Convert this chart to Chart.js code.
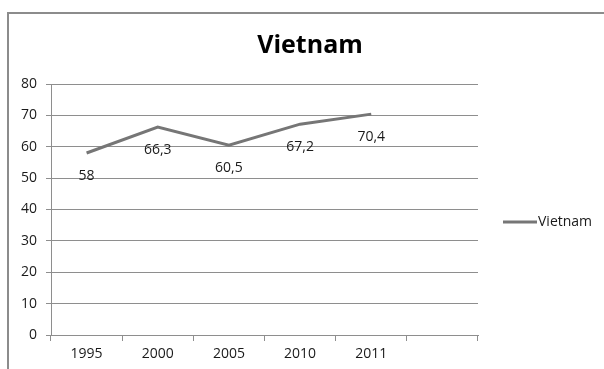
<!DOCTYPE html>
<html>
<head>
<meta charset="utf-8">
<title>Vietnam</title>
<script src="https://cdn.jsdelivr.net/npm/chart.js@4/dist/chart.umd.min.js"></script>
<style>
  html, body { margin: 0; padding: 0; background: #fff; overflow: hidden; }
  #wrap { position: relative; width: 604px; height: 369px; }
  #frame {
    position: absolute; left: 7px; top: 12px; width: 640px; height: 400px;
    border: 2px solid #8c8c8c; box-sizing: border-box;
  }
  canvas { position: absolute; left: 0; top: 0; }
</style>
</head>
<body>
<div id="wrap">
  <div id="frame"></div>
  <canvas id="chart" width="604" height="369"></canvas>
</div>
<script>
// data
const years = ["1995", "2000", "2005", "2010", "2011", ""];
const values = [58, 66.3, 60.5, 67.2, 70.4];
const seriesName = "Vietnam";
const yTicks = [0, 10, 20, 30, 40, 50, 60, 70, 80];

const FONT = "'Open Sans', sans-serif";
const lineColor = "#767676";
const gridColor = "#8e8e8e";

// chart title, centred over the whole frame (not just the plot)
const frameTitle = {
  id: "frameTitle",
  afterDraw(chart) {
    const ctx = chart.ctx;
    ctx.save();
    ctx.font = "bold 25px " + FONT;
    ctx.fillStyle = "#000";
    ctx.textAlign = "center";
    ctx.textBaseline = "middle";
    ctx.fillText(seriesName, 310, 46);
    ctx.restore();
  }
};

// value labels under each point, with a decimal comma
const pointLabels = {
  id: "pointLabels",
  afterDatasetsDraw(chart) {
    const ctx = chart.ctx;
    const meta = chart.getDatasetMeta(0);
    ctx.save();
    ctx.font = "14px " + FONT;
    ctx.fillStyle = "#1a1a1a";
    ctx.textAlign = "center";
    ctx.textBaseline = "middle";
    meta.data.forEach((pt, i) => {
      const txt = String(values[i]).replace(".", ",");
      ctx.fillText(txt, pt.x, pt.y + 23);
    });
    ctx.restore();
  }
};

// legend on the right: short line + series name
const sideLegend = {
  id: "sideLegend",
  afterDraw(chart) {
    const ctx = chart.ctx;
    const ds = chart.data.datasets[0];
    const y = 222;
    ctx.save();
    ctx.strokeStyle = ds.borderColor;
    ctx.lineWidth = 3;
    ctx.beginPath();
    ctx.moveTo(503, y);
    ctx.lineTo(537, y);
    ctx.stroke();
    ctx.font = "14px " + FONT;
    ctx.fillStyle = "#1a1a1a";
    ctx.textBaseline = "middle";
    ctx.fillText(ds.label, 538, y);
    ctx.restore();
  }
};

const ctx = document.getElementById("chart");
const chart = new Chart(ctx, {
  type: "line",
  data: {
    labels: years,
    datasets: [{
      label: seriesName,
      data: values,
      borderColor: lineColor,
      borderWidth: 3,
      pointRadius: 0,
      tension: 0,
      fill: false
    }]
  },
  options: {
    responsive: false,
    animation: false,
    layout: { padding: { left: 0, right: 126, top: 84, bottom: 0 } },
    plugins: {
      legend: { display: false },
      tooltip: { enabled: false },
      title: { display: false }
    },
    scales: {
      x: {
        offset: true,
        grid: {
          offset: true,
          drawOnChartArea: false,
          drawTicks: true,
          tickLength: 6,
          color: gridColor
        },
        border: { color: gridColor, width: 1 },
        ticks: {
          color: "#1a1a1a",
          font: { family: FONT, size: 14 },
          padding: 5,
          maxRotation: 0
        },
        afterFit(scale) { scale.height = 34; }
      },
      y: {
        min: 0,
        max: 80,
        afterBuildTicks(scale) {
          scale.ticks = yTicks.map(v => ({ value: v }));
        },
        grid: {
          color: gridColor,
          tickLength: 5,
          drawTicks: true
        },
        border: { color: gridColor, width: 1 },
        ticks: {
          color: "#1a1a1a",
          font: { family: FONT, size: 14 },
          padding: 9
        },
        afterFit(scale) { scale.width = 51; }
      }
    }
  },
  plugins: [pointLabels, sideLegend, frameTitle]
});
</script>
</body>
</html>
